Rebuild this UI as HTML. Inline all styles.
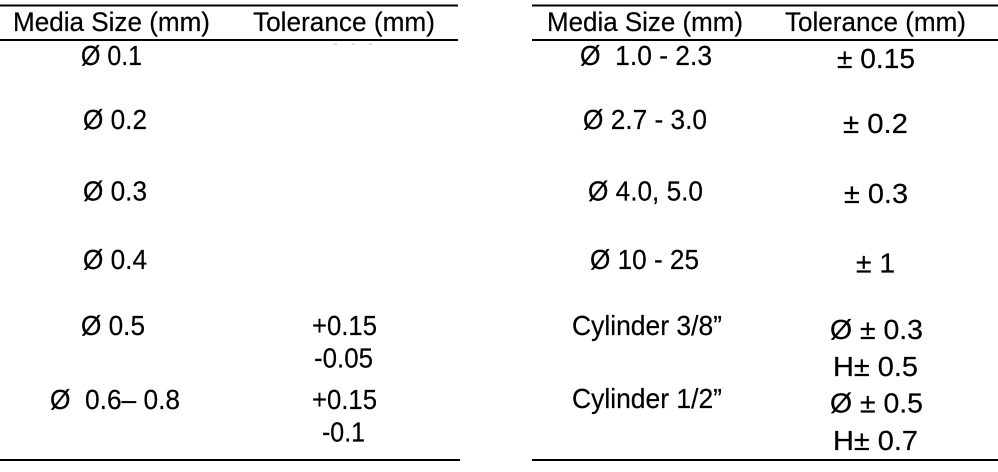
<!DOCTYPE html>
<html>
<head>
<meta charset="utf-8">
<style>
  html,body{margin:0;padding:0;background:#fff;}
  svg{display:block;}
  text{font-family:"Liberation Sans", Arial, sans-serif;font-size:28px;fill:#000;stroke:#000;stroke-width:0.2px;white-space:pre;}
  text.h{font-size:26.5px;}
</style>
</head>
<body>
<svg width="998" height="472" viewBox="0 0 998 472" xmlns="http://www.w3.org/2000/svg" xml:space="preserve">
  <!-- Left table rules -->
  <rect x="0" y="4.5" width="458" height="2" fill="#000"/>
  <rect x="0" y="39" width="458" height="2" fill="#000"/>
  <rect x="0" y="459" width="460" height="2" fill="#000"/>
  <!-- Right table rules -->
  <rect x="532" y="4.5" width="466" height="2" fill="#000"/>
  <rect x="532" y="39" width="466" height="2" fill="#000"/>
  <rect x="532" y="459" width="466" height="2" fill="#000"/>

  <!-- faint clipped marks -->
  <g fill="#ddd">
    <rect x="334" y="43" width="3" height="2"/>
    <rect x="352" y="43" width="3" height="2"/>
    <rect x="369" y="43" width="3" height="2"/>
  </g>

  <!-- Left headers -->
  <text class="h" x="13" y="31" textLength="197" lengthAdjust="spacingAndGlyphs">Media Size (mm)</text>
  <text class="h" x="253" y="31" textLength="182" lengthAdjust="spacingAndGlyphs">Tolerance (mm)</text>

  <!-- Left body -->
  <text x="81" y="65" textLength="61" lengthAdjust="spacingAndGlyphs">Ø 0.1</text>
  <text x="83" y="129" textLength="64" lengthAdjust="spacingAndGlyphs">Ø 0.2</text>
  <text x="83" y="200.5" textLength="64" lengthAdjust="spacingAndGlyphs">Ø 0.3</text>
  <text x="83" y="269" textLength="64" lengthAdjust="spacingAndGlyphs">Ø 0.4</text>
  <text x="81" y="335" textLength="64" lengthAdjust="spacingAndGlyphs">Ø 0.5</text>
  <text x="312" y="335" textLength="65" lengthAdjust="spacingAndGlyphs">+0.15</text>
  <text x="314" y="367.5" textLength="59" lengthAdjust="spacingAndGlyphs">-0.05</text>
  <text x="50" y="409" textLength="130" lengthAdjust="spacingAndGlyphs">Ø  0.6– 0.8</text>
  <text x="312" y="409" textLength="65" lengthAdjust="spacingAndGlyphs">+0.15</text>
  <text x="322" y="441.5" textLength="43" lengthAdjust="spacingAndGlyphs">-0.1</text>

  <!-- Right headers -->
  <text class="h" x="547" y="31" textLength="196" lengthAdjust="spacingAndGlyphs">Media Size (mm)</text>
  <text class="h" x="785" y="31" textLength="181" lengthAdjust="spacingAndGlyphs">Tolerance (mm)</text>

  <!-- Right body -->
  <text x="580" y="65" textLength="132" lengthAdjust="spacingAndGlyphs">Ø  1.0 - 2.3</text>
  <text x="837" y="68" textLength="78" lengthAdjust="spacingAndGlyphs">± 0.15</text>
  <text x="583" y="129" textLength="124" lengthAdjust="spacingAndGlyphs">Ø 2.7 - 3.0</text>
  <text x="843" y="133" textLength="65" lengthAdjust="spacingAndGlyphs">± 0.2</text>
  <text x="588" y="200.5" textLength="115" lengthAdjust="spacingAndGlyphs">Ø 4.0, 5.0</text>
  <text x="844" y="203" textLength="64" lengthAdjust="spacingAndGlyphs">± 0.3</text>
  <text x="590" y="269" textLength="109" lengthAdjust="spacingAndGlyphs">Ø 10 - 25</text>
  <text x="856" y="272.5" textLength="39" lengthAdjust="spacingAndGlyphs">± 1</text>
  <text x="572" y="335" textLength="150" lengthAdjust="spacingAndGlyphs">Cylinder 3/8”</text>
  <text x="830" y="339" textLength="93" lengthAdjust="spacingAndGlyphs">Ø ± 0.3</text>
  <text x="833" y="376" textLength="85" lengthAdjust="spacingAndGlyphs">H± 0.5</text>
  <text x="572" y="408" textLength="150" lengthAdjust="spacingAndGlyphs">Cylinder 1/2”</text>
  <text x="830" y="412.5" textLength="93" lengthAdjust="spacingAndGlyphs">Ø ± 0.5</text>
  <text x="833" y="450" textLength="85" lengthAdjust="spacingAndGlyphs">H± 0.7</text>
</svg>
</body>
</html>
